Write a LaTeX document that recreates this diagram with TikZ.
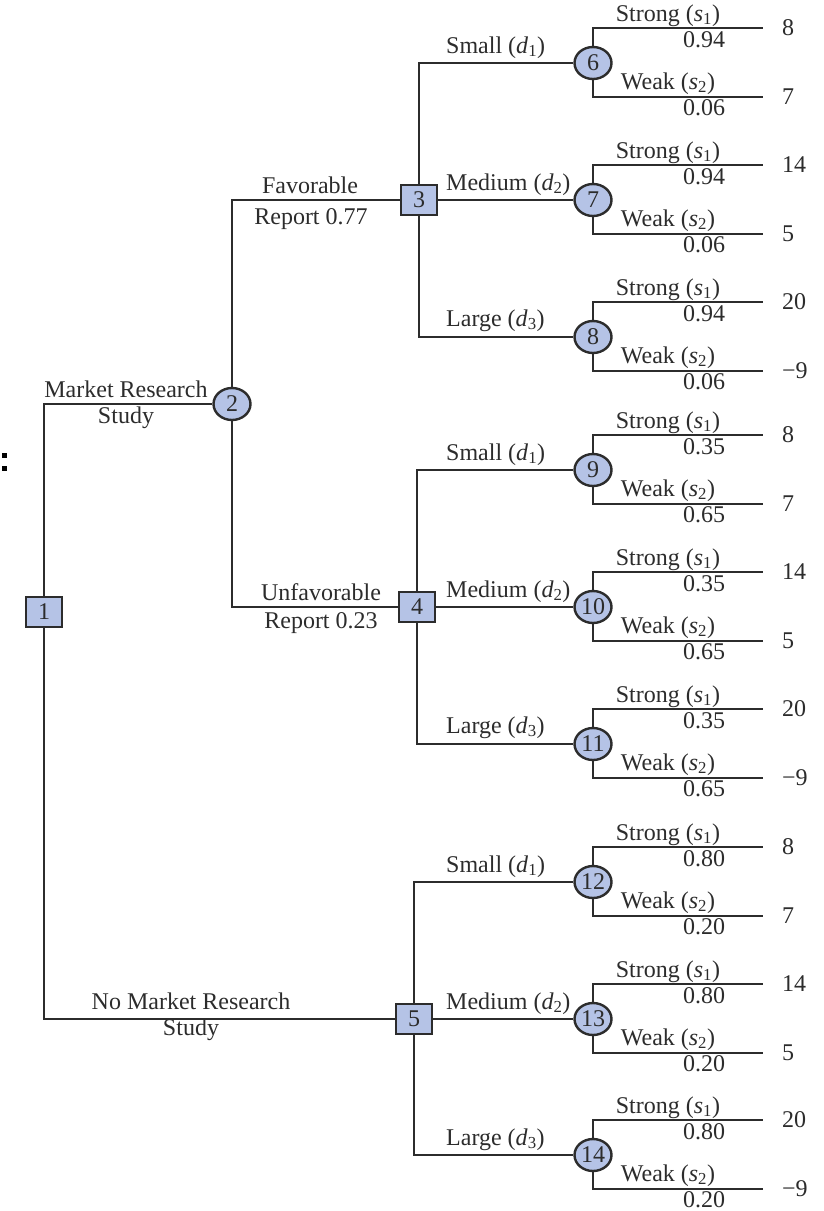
\documentclass[tikz,border=0pt]{standalone}
\usepackage{fontspec}
\setmainfont{Liberation Serif}
\usetikzlibrary{shapes.geometric}
\definecolor{nodefill}{HTML}{B5C3E6}
\definecolor{ink}{HTML}{2C2C2C}
\begin{document}
\begin{tikzpicture}[x=1pt,y=-1pt,
  every node/.style={font=\fontsize{24}{28}\selectfont, text=ink, inner sep=0pt},
  decision/.style={draw=ink, fill=nodefill, line width=2.4pt, minimum width=36pt, minimum height=30pt},
  chance/.style={ellipse, draw=ink, fill=nodefill, line width=2.4pt, minimum width=37pt, minimum height=32pt},
  branch/.style={draw=ink, line width=2.3pt},
  lbl/.style={anchor=base},
  lblw/.style={anchor=base west}]
\useasboundingbox (0,0) rectangle (823,1211);

% stray marks at the left edge
\fill[black] (1.5,453) rectangle (6.5,458);
\fill[black] (1.5,466) rectangle (6.5,471);

% decision and chance nodes of the first stages
\node[decision] (d1) at (44,612) {1};
\node[chance] (c2) at (232,404) {2};
\node[decision] (d3) at (419,200) {3};
\node[decision] (d4) at (417,607) {4};
\node[decision] (d5) at (414,1019) {5};

% state-of-nature nodes with their outcome branches
\foreach \n/\y/\ps/\pw/\vs/\vw in {
  6/63/0.94/0.06/8/7, 7/200/0.94/0.06/14/5, 8/337/0.94/0.06/20/−9,
  9/470/0.35/0.65/8/7, 10/607/0.35/0.65/14/5, 11/744/0.35/0.65/20/−9,
  12/882/0.80/0.20/8/7, 13/1019/0.80/0.20/14/5, 14/1155/0.80/0.20/20/−9}
{
  \node[chance] (c\n) at (593,\y) {\n};
  \coordinate (t\n) at (763,\y-35);
  \coordinate (b\n) at (763,\y+34);
  \draw[branch] (c\n) |- (t\n);
  \draw[branch] (c\n) |- (b\n);
  \node[lbl] (st\n) at (668,\y-42) {Strong (\textit{s}\textsubscript{1})};
  \node[lbl] (ps\n) at (704,\y-16) {\ps};
  \node[lbl] (wk\n) at (668,\y+26) {Weak (\textit{s}\textsubscript{2})};
  \node[lbl] (pw\n) at (704,\y+52) {\pw};
  \node[lblw] (vs\n) at (782,\y-28) {\vs};
  \node[lblw] (vw\n) at (782,\y+41) {\vw};
}

% connectors
\draw[branch] (d1) |- (c2);
\draw[branch] (d1) |- (d5);
\draw[branch] (c2) |- (d3);
\draw[branch] (c2) |- (d4);
\draw[branch] (d3) |- (c6);
\draw[branch] (d3) -- (c7);
\draw[branch] (d3) |- (c8);
\draw[branch] (d4) |- (c9);
\draw[branch] (d4) -- (c10);
\draw[branch] (d4) |- (c11);
\draw[branch] (d5) |- (c12);
\draw[branch] (d5) -- (c13);
\draw[branch] (d5) |- (c14);

% decision alternatives
\foreach \g/\y in {a/63, b/470, c/882}{
  \node[lblw] (sm\g) at (446,\y-10) {Small (\textit{d}\textsubscript{1})};
  \node[lblw] (md\g) at (446,\y+127) {Medium (\textit{d}\textsubscript{2})};
  \node[lblw] (lg\g) at (446,\y+263) {Large (\textit{d}\textsubscript{3})};
}

% branch labels of the first stages
\node[lbl] (mr1) at (126,397) {Market Research};
\node[lbl] (mr2) at (126,423) {Study};
\node[lbl] (fa1) at (310,193) {Favorable};
\node[lbl] (fa2) at (311,224) {Report 0.77};
\node[lbl] (un1) at (321,600) {Unfavorable};
\node[lbl] (un2) at (321,628) {Report 0.23};
\node[lbl] (nm1) at (191,1009) {No Market Research};
\node[lbl] (nm2) at (191,1035) {Study};
\end{tikzpicture}
\end{document}
